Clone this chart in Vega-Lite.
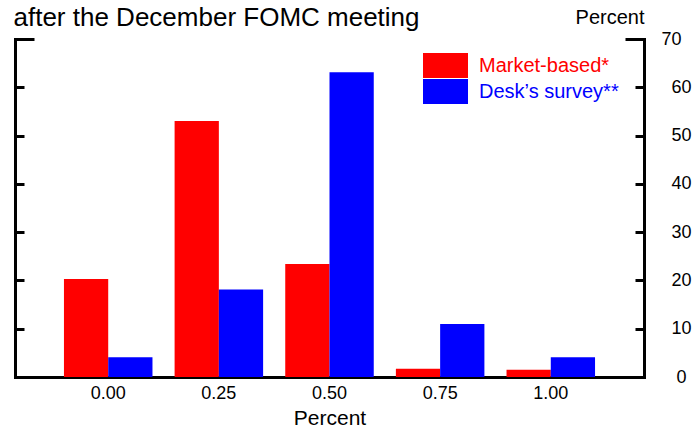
{
  "$schema": "https://vega.github.io/schema/vega-lite/v6.json",
  "width": 629,
  "height": 338,
  "autosize": "none",
  "padding": {"left": 15, "top": 39, "right": 54, "bottom": 53},
  "config": {
    "font": "Liberation Sans",
    "view": {"stroke": null},
    "axis": {
      "domainColor": "black",
      "tickColor": "black",
      "labelColor": "black",
      "titleColor": "black",
      "domainWidth": 3,
      "tickWidth": 3,
      "grid": false,
      "titleFontWeight": "normal",
      "domainCap": "square"
    }
  },
  "data": {
    "values": [
      {"rate": "0.00", "series": "Market-based*", "pct": 20.3},
      {"rate": "0.00", "series": "Desk’s survey**", "pct": 4.1},
      {"rate": "0.25", "series": "Market-based*", "pct": 53.0},
      {"rate": "0.25", "series": "Desk’s survey**", "pct": 18.1},
      {"rate": "0.50", "series": "Market-based*", "pct": 23.4},
      {"rate": "0.50", "series": "Desk’s survey**", "pct": 63.1},
      {"rate": "0.75", "series": "Market-based*", "pct": 1.7},
      {"rate": "0.75", "series": "Desk’s survey**", "pct": 11.0},
      {"rate": "1.00", "series": "Market-based*", "pct": 1.5},
      {"rate": "1.00", "series": "Desk’s survey**", "pct": 4.1}
    ]
  },
  "layer": [
    {
      "mark": {"type": "bar"},
      "encoding": {
        "x": {
          "field": "rate",
          "type": "nominal",
          "sort": null,
          "scale": {"paddingInner": 0.2, "paddingOuter": 0.4425},
          "axis": {
            "orient": "bottom",
            "title": "Percent",
            "labelAngle": 0,
            "ticks": false,
            "tickSize": 0,
            "labelPadding": 7,
            "labelFontSize": 18,
            "titleFontSize": 21,
            "titleY": 47,
            "titleBaseline": "alphabetic"
          }
        },
        "xOffset": {
          "field": "series",
          "type": "nominal",
          "sort": ["Market-based*", "Desk’s survey**"],
          "scale": {"paddingInner": 0, "paddingOuter": 0}
        },
        "y": {
          "field": "pct",
          "type": "quantitative",
          "scale": {"domain": [0, 70], "nice": false},
          "axis": {
            "orient": "right",
            "values": [0, 10, 20, 30, 40, 50, 60, 70],
            "tickSize": {"condition": {"test": "datum.value == 70", "value": -19}, "value": -9},
            "labelAlign": "center",
            "labelPadding": 46,
            "labelFontSize": 18,
            "title": "Percent",
            "titleAngle": 0,
            "titleAlign": "right",
            "titleBaseline": "alphabetic",
            "titleX": 0,
            "titleY": -16,
            "titleFontSize": 20
          }
        },
        "color": {
          "field": "series",
          "type": "nominal",
          "sort": ["Market-based*", "Desk’s survey**"],
          "scale": {"domain": ["Market-based*", "Desk’s survey**"], "range": ["#FF0000", "#0000FF"]},
          "legend": {
            "orient": "none",
            "legendX": 418,
            "legendY": 14,
            "title": null,
            "padding": 0,
            "symbolType": "M-1.8,-1H1.8V1H-1.8Z",
            "symbolSize": 625,
            "symbolStrokeWidth": 0,
            "symbolOpacity": 1,
            "labelFontSize": 20,
            "labelOffset": 21,
            "rowPadding": 1,
            "encoding": {
              "labels": {
                "fill": {"condition": {"test": "datum.value === 'Market-based*'", "value": "#FF0000"}, "value": "#0000FF"}
              }
            }
          }
        }
      }
    },
    {
      "mark": {"type": "rule", "strokeOpacity": 0},
      "encoding": {
        "y": {
          "datum": 0,
          "type": "quantitative",
          "scale": {"domain": [0, 70], "nice": false},
          "axis": {
            "orient": "left",
            "values": [10, 20, 30, 40, 50, 60, 70],
            "labels": false,
            "tickSize": {"condition": {"test": "datum.value == 70", "value": -19}, "value": -9},
            "title": "after the December FOMC meeting",
            "titleAngle": 0,
            "titleAlign": "left",
            "titleBaseline": "alphabetic",
            "titleX": -2,
            "titleY": -14,
            "titleFontSize": 26
          }
        }
      }
    }
  ],
  "resolve": {"axis": {"y": "independent"}}
}
